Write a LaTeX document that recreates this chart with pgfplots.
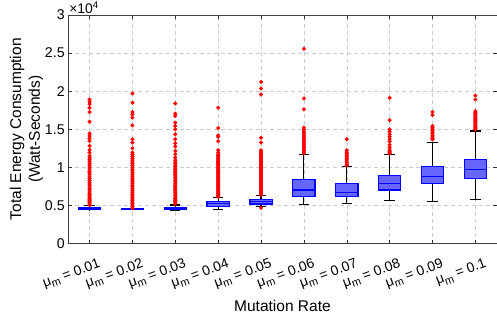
\documentclass[border=0pt]{standalone}
\usepackage{pgfplots}
\pgfplotsset{compat=1.18}
\usepackage{fontspec}
\setmainfont{Liberation Sans}
\newcommand{\mum}[1]{μ\raisebox{-0.45ex}{\fontsize{11}{11}\selectfont m} = #1}
\begin{document}
\begin{tikzpicture}
\begin{axis}[
  scale only axis, width=431pt, height=230pt,
  xmin=0.5, xmax=10.5, ymin=0, ymax=3,
  clip=false,
  xtick={1,2,3,4,5,6,7,8,9,10},
  xticklabels={{\mum{0.01}},{\mum{0.02}},{\mum{0.03}},{\mum{0.04}},{\mum{0.05}},{\mum{0.06}},{\mum{0.07}},{\mum{0.08}},{\mum{0.09}},{\mum{0.1}}},
  ytick={0,0.5,1,1.5,2,2.5,3},
  yticklabels={0,0.5,1,1.5,2,2.5,3},
  scaled y ticks=false,
  tick align=inside,
  major tick length=4pt,
  tick style={black!80, thin},
  axis line style={black!75, thin},
  grid=major,
  grid style={gray!40, dash pattern=on 4pt off 3pt, thin},
  xticklabel style={rotate=20, anchor=north east, font=\fontsize{14}{16}\selectfont, inner sep=1pt, yshift=-15pt, xshift=4pt},
  yticklabel style={font=\fontsize{14.2}{16}\selectfont},
  xlabel={Mutation Rate},
  ylabel={Total Energy Consumption\\(Watt-Seconds)},
  xlabel style={font=\fontsize{15.6}{18}\selectfont, yshift=-5pt},
  ylabel style={font=\fontsize{15.6}{19}\selectfont, align=center, yshift=-5pt},
]
% whiskers and caps (values in units of 10^4 Watt-Seconds)
\addplot[black, line width=1.2pt, unbounded coords=jump, mark=none] coordinates {
(1,0.474) (1,0.498) (nan,nan) (0.88,0.498) (1.12,0.498) (nan,nan) (1,0.445) (1,0.443) (nan,nan) (0.88,0.443) (1.12,0.443) (nan,nan)
(3,0.476) (3,0.508) (nan,nan) (2.88,0.508) (3.12,0.508) (nan,nan) (3,0.445) (3,0.442) (nan,nan) (2.88,0.442) (3.12,0.442) (nan,nan)
(4,0.557) (4,0.604) (nan,nan) (3.88,0.604) (4.12,0.604) (nan,nan) (4,0.492) (4,0.452) (nan,nan) (3.88,0.452) (4.12,0.452) (nan,nan)
(5,0.578) (5,0.630) (nan,nan) (4.88,0.630) (5.12,0.630) (nan,nan) (5,0.522) (5,0.492) (nan,nan) (4.88,0.492) (5.12,0.492) (nan,nan)
(6,0.844) (6,1.174) (nan,nan) (5.88,1.174) (6.12,1.174) (nan,nan) (6,0.617) (6,0.509) (nan,nan) (5.88,0.509) (6.12,0.509) (nan,nan)
(7,0.787) (7,1.008) (nan,nan) (6.88,1.008) (7.12,1.008) (nan,nan) (7,0.622) (7,0.531) (nan,nan) (6.88,0.531) (7.12,0.531) (nan,nan)
(8,0.896) (8,1.165) (nan,nan) (7.88,1.165) (8.12,1.165) (nan,nan) (8,0.704) (8,0.565) (nan,nan) (7.88,0.565) (8.12,0.565) (nan,nan)
(9,1.009) (9,1.330) (nan,nan) (8.88,1.330) (9.12,1.330) (nan,nan) (9,0.787) (9,0.552) (nan,nan) (8.88,0.552) (9.12,0.552) (nan,nan)
(10,1.104) (10,1.478) (nan,nan) (9.88,1.478) (10.12,1.478) (nan,nan) (10,0.857) (10,0.583) (nan,nan) (9.88,0.583) (10.12,0.583)
};
% boxes (lower quartile to upper quartile)
\addplot[draw=blue, fill=blue!60, line width=1.3pt, mark=none] coordinates {(0.74,0.445) (1.26,0.445) (1.26,0.474) (0.74,0.474) (0.74,0.445) (1.26,0.445)};
\addplot[draw=blue, fill=blue!60, line width=1.3pt, mark=none] coordinates {(1.74,0.451) (2.26,0.451) (2.26,0.456) (1.74,0.456) (1.74,0.451) (2.26,0.451)};
\addplot[draw=blue, fill=blue!60, line width=1.3pt, mark=none] coordinates {(2.74,0.445) (3.26,0.445) (3.26,0.476) (2.74,0.476) (2.74,0.445) (3.26,0.445)};
\addplot[draw=blue, fill=blue!60, line width=1.3pt, mark=none] coordinates {(3.74,0.492) (4.26,0.492) (4.26,0.557) (3.74,0.557) (3.74,0.492) (4.26,0.492)};
\addplot[draw=blue, fill=blue!60, line width=1.3pt, mark=none] coordinates {(4.74,0.522) (5.26,0.522) (5.26,0.578) (4.74,0.578) (4.74,0.522) (5.26,0.522)};
\addplot[draw=blue, fill=blue!60, line width=1.3pt, mark=none] coordinates {(5.74,0.617) (6.26,0.617) (6.26,0.844) (5.74,0.844) (5.74,0.617) (6.26,0.617)};
\addplot[draw=blue, fill=blue!60, line width=1.3pt, mark=none] coordinates {(6.74,0.622) (7.26,0.622) (7.26,0.787) (6.74,0.787) (6.74,0.622) (7.26,0.622)};
\addplot[draw=blue, fill=blue!60, line width=1.3pt, mark=none] coordinates {(7.74,0.704) (8.26,0.704) (8.26,0.896) (7.74,0.896) (7.74,0.704) (8.26,0.704)};
\addplot[draw=blue, fill=blue!60, line width=1.3pt, mark=none] coordinates {(8.74,0.787) (9.26,0.787) (9.26,1.009) (8.74,1.009) (8.74,0.787) (9.26,0.787)};
\addplot[draw=blue, fill=blue!60, line width=1.3pt, mark=none] coordinates {(9.74,0.857) (10.26,0.857) (10.26,1.104) (9.74,1.104) (9.74,0.857) (10.26,0.857)};
% medians
\addplot[blue, line width=1.2pt, unbounded coords=jump, mark=none] coordinates {
(0.74,0.460) (1.26,0.460) (nan,nan) (1.74,0.452) (2.26,0.452) (nan,nan) (2.74,0.460) (3.26,0.460) (nan,nan)
(3.74,0.525) (4.26,0.525) (nan,nan) (4.74,0.550) (5.26,0.550) (nan,nan) (5.74,0.704) (6.26,0.704) (nan,nan)
(6.74,0.674) (7.26,0.674) (nan,nan) (7.74,0.791) (8.26,0.791) (nan,nan) (8.74,0.883) (9.26,0.883) (nan,nan)
(9.74,0.970) (10.26,0.970)
};
% outliers
\addplot[only marks, mark=*, mark size=1.9pt, mark options={draw=red, fill=red, line width=0.3pt}] coordinates {
(1,0.505) (1,0.520) (1,0.535) (1,0.550) (1,0.565) (1,0.580) (1,0.595) (1,0.610) (1,0.625) (1,0.640) (1,0.655)
(1,0.680) (1,0.705) (1,0.725) (1,0.755) (1,0.780) (1,0.800) (1,0.830) (1,0.855) (1,0.875) (1,0.905) (1,0.930) (1,0.950) (1,0.980) (1,1.005) (1,1.030) (1,1.050) (1,1.080) (1,1.105) (1,1.125)
(1,1.152) (1,1.196) (1,1.230) (1,1.282) (1,1.347) (1,1.379) (1,1.413) (1,1.444) (1,1.600) (1,1.726) (1,1.783) (1,1.830) (1,1.860) (1,1.891)
(2,0.465) (2,0.485) (2,0.505) (2,0.525) (2,0.545) (2,0.565) (2,0.585) (2,0.605) (2,0.630) (2,0.650) (2,0.675) (2,0.695) (2,0.720) (2,0.745) (2,0.765) (2,0.790) (2,0.815) (2,0.835) (2,0.860) (2,0.885) (2,0.905) (2,0.930) (2,0.955) (2,0.975) (2,1.000) (2,1.025) (2,1.050) (2,1.070) (2,1.095) (2,1.120) (2,1.145) (2,1.170) (2,1.195)
(2,1.252) (2,1.326) (2,1.370) (2,1.552) (2,1.653) (2,1.696) (2,1.726) (2,1.848) (2,1.970)
(3,0.520) (3,0.535) (3,0.550) (3,0.565) (3,0.580) (3,0.595) (3,0.610) (3,0.630) (3,0.650) (3,0.670) (3,0.690) (3,0.710) (3,0.730) (3,0.750) (3,0.770) (3,0.790) (3,0.810) (3,0.830) (3,0.850) (3,0.870) (3,0.890) (3,0.910) (3,0.930) (3,0.950) (3,0.970) (3,0.990) (3,1.010) (3,1.030) (3,1.050) (3,1.070) (3,1.095)
(3,1.130) (3,1.174) (3,1.217) (3,1.274) (3,1.317) (3,1.370) (3,1.435) (3,1.500) (3,1.543) (3,1.587) (3,1.674) (3,1.705) (3,1.839)
(4,0.615) (4,0.630) (4,0.645) (4,0.660) (4,0.675) (4,0.690) (4,0.705) (4,0.720) (4,0.735) (4,0.750) (4,0.765) (4,0.780) (4,0.795) (4,0.810) (4,0.825) (4,0.840) (4,0.855) (4,0.870) (4,0.885) (4,0.900) (4,0.915) (4,0.930) (4,0.945) (4,0.960) (4,0.975) (4,0.990) (4,1.005) (4,1.020) (4,1.035) (4,1.050) (4,1.065) (4,1.080) (4,1.095) (4,1.110) (4,1.125) (4,1.140) (4,1.155) (4,1.170) (4,1.196)
(4,1.226) (4,1.343) (4,1.400) (4,1.420) (4,1.517) (4,1.783)
(5,0.470)
(5,0.640) (5,0.655) (5,0.670) (5,0.685) (5,0.700) (5,0.715) (5,0.730) (5,0.745) (5,0.760) (5,0.775) (5,0.790) (5,0.805) (5,0.820) (5,0.835) (5,0.850) (5,0.865) (5,0.880) (5,0.895) (5,0.910) (5,0.925) (5,0.940) (5,0.955) (5,0.970) (5,0.985) (5,1.000) (5,1.015) (5,1.030) (5,1.045) (5,1.060) (5,1.075) (5,1.090) (5,1.105) (5,1.120) (5,1.135) (5,1.150) (5,1.165) (5,1.180) (5,1.195) (5,1.210) (5,1.226)
(5,1.326) (5,1.390) (5,1.957) (5,2.035) (5,2.122)
(6,1.185) (6,1.200) (6,1.220) (6,1.240) (6,1.260) (6,1.280) (6,1.300) (6,1.320) (6,1.340) (6,1.360) (6,1.385) (6,1.405) (6,1.425) (6,1.450) (6,1.470) (6,1.496) (6,1.522)
(6,1.761) (6,1.904) (6,2.556)
(7,1.025) (7,1.040) (7,1.060) (7,1.080) (7,1.100) (7,1.120) (7,1.140) (7,1.160) (7,1.180) (7,1.200) (7,1.226) (7,1.370)
(8,1.180) (8,1.195) (8,1.210) (8,1.226) (8,1.260) (8,1.295) (8,1.340) (8,1.370) (8,1.405) (8,1.435) (8,1.470) (8,1.500) (8,1.620) (8,1.913)
(9,1.365) (9,1.380) (9,1.400) (9,1.420) (9,1.440) (9,1.460) (9,1.480) (9,1.500) (9,1.520) (9,1.543) (9,1.687) (9,1.726)
(10,1.495) (10,1.510) (10,1.525) (10,1.540) (10,1.555) (10,1.570) (10,1.585) (10,1.600) (10,1.615) (10,1.630) (10,1.645) (10,1.660) (10,1.675) (10,1.690) (10,1.705) (10,1.720) (10,1.739) (10,1.891) (10,1.943)
};
\node[anchor=south west, inner sep=1pt, font=\fontsize{14}{16}\selectfont] at (rel axis cs:0,1) {×10\textsuperscript{4}};
\end{axis}
\path[use as bounding box] (-68.5pt,-71pt) rectangle (428.5pt,245pt);
\end{tikzpicture}
\end{document}
